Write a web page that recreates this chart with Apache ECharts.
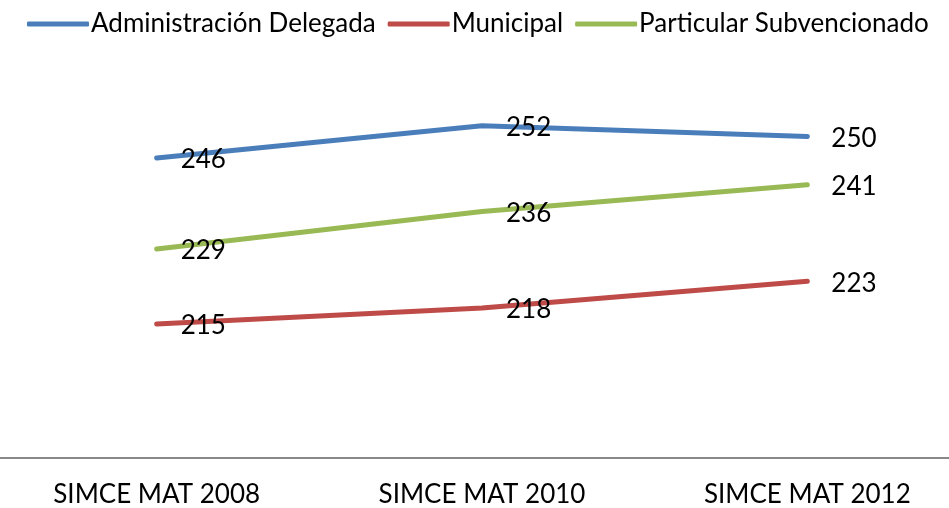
<!DOCTYPE html>
<html>
<head>
<meta charset="utf-8">
<script src="https://cdn.jsdelivr.net/npm/echarts@6/dist/echarts.min.js"></script>
<style>
  html, body { margin: 0; padding: 0; background: #fff; }
  #main { width: 949px; height: 508px; }
</style>
</head>
<body>
<div id="main"></div>
<script>
// categories and values
var categories = ['SIMCE MAT 2008', 'SIMCE MAT 2010', 'SIMCE MAT 2012'];
var seriesNames = ['Administración Delegada', 'Municipal', 'Particular Subvencionado'];
var adminDelegada = [246, 252, 250];
var municipal = [215, 218, 223];
var particularSub = [229, 236, 241];
var colors = ['#4a7ebb', '#be4b48', '#98b954'];

var font = 'Lato';
var chart = echarts.init(document.getElementById('main'), null, { renderer: 'canvas' });

function makeLine(name, data, color) {
    return {
        name: name,
        type: 'line',
        data: data,
        symbol: 'circle',
        symbolSize: 0,
        showAllSymbol: true,
        lineStyle: { color: color, width: 5, cap: 'round' },
        itemStyle: { color: color },
        label: {
            show: true,
            position: 'right',
            distance: 24,
            offset: [0, 2],
            color: '#000',
            fontFamily: font,
            fontSize: 26
        }
    };
}

var option = {
    animation: false,
    color: colors,
    legend: {
        top: 6,
        left: 22,
        itemWidth: 62,
        itemHeight: 5,
        itemGap: 12,
        icon: 'roundRect',
        textStyle: { fontFamily: font, fontSize: 26, color: '#000', padding: [0, 0, 0, -3] },
        data: seriesNames
    },
    grid: { left: -6, width: 976, top: 83, bottom: 50, outerBoundsMode: 'none' },
    xAxis: {
        type: 'category',
        data: categories,
        axisLine: { lineStyle: { color: '#888', width: 2 } },
        axisTick: { show: false },
        axisLabel: { fontFamily: font, fontSize: 26, color: '#000', margin: 24 }
    },
    yAxis: {
        type: 'value',
        min: 190,
        max: 260,
        show: false
    },
    series: [
        makeLine(seriesNames[0], adminDelegada, colors[0]),
        makeLine(seriesNames[1], municipal, colors[1]),
        makeLine(seriesNames[2], particularSub, colors[2])
    ]
};
chart.setOption(option);
</script>
</body>
</html>
